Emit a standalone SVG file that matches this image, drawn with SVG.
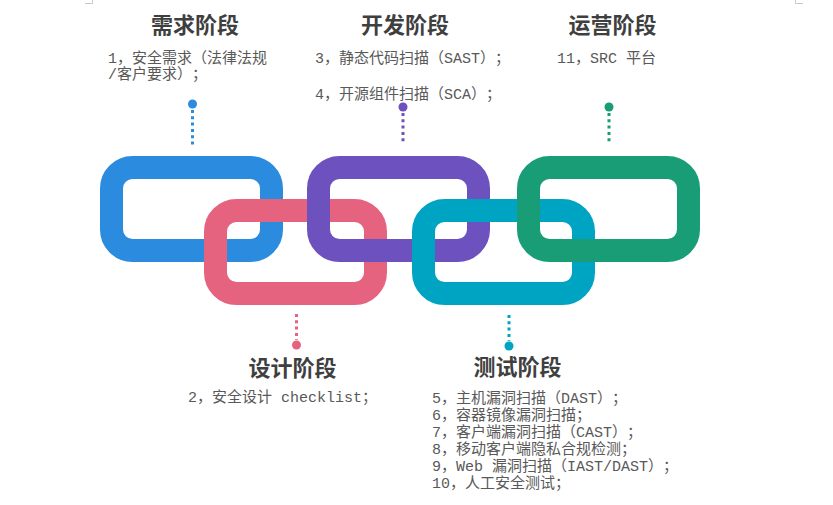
<svg xmlns="http://www.w3.org/2000/svg" width="833" height="505" viewBox="0 0 833 505">
<style>
text{text-spacing-trim:space-all}
.link{fill:none;stroke-width:23}
.title{font-family:"Noto Sans CJK SC","Noto Sans",sans-serif;font-weight:bold;font-size:22px;fill:#3f3f3f;text-anchor:middle}
.body{font-family:"Liberation Mono","Noto Sans CJK SC",monospace;font-size:15px;fill:#595959}
.dots{fill:none;stroke-width:3;stroke-dasharray:3 3.3}
.mark{fill:none;stroke:#c8c8c8;stroke-width:1}
</style>
<rect width="833" height="505" fill="#ffffff"/>
<path class="mark" d="M85 3.5H92.5V0"/>
<path class="mark" d="M795.5 0V3.5H803"/>
<g id="links">
<rect id="link-blue" class="link" x="111.5" y="167.5" width="160" height="83" rx="21" stroke="#2a8bdf"/>
<rect id="link-pink" class="link" x="215.5" y="210.5" width="160" height="83" rx="21" stroke="#e5637f"/>
<rect id="link-purple" class="link" x="318.5" y="167.5" width="160" height="83" rx="21" stroke="#6c51bf"/>
<rect id="link-teal" class="link" x="423.5" y="210.5" width="160" height="83" rx="21" stroke="#00a4c3"/>
<rect id="link-green" class="link" x="528.5" y="167.5" width="160" height="83" rx="21" stroke="#189d76"/>
</g>
<g id="connectors">
<line class="dots" x1="192.5" y1="110" x2="192.5" y2="146" stroke="#2a8bdf"/>
<circle cx="192.5" cy="104" r="4.5" fill="#2a8bdf"/>
<line class="dots" x1="403" y1="113" x2="403" y2="143" stroke="#6c51bf"/>
<circle cx="403" cy="107" r="4.5" fill="#6c51bf"/>
<line class="dots" x1="609" y1="113" x2="609" y2="143" stroke="#189d76"/>
<circle cx="609" cy="107" r="4.5" fill="#189d76"/>
<line class="dots" x1="296.5" y1="314" x2="296.5" y2="340" stroke="#e5637f"/>
<circle cx="296.5" cy="345" r="4.5" fill="#e5637f"/>
<line class="dots" x1="509" y1="315" x2="509" y2="341" stroke="#00a4c3"/>
<circle cx="509" cy="346" r="4.5" fill="#00a4c3"/>
</g>
<g id="stage-requirements">
<text class="title" x="195" y="33">需求阶段</text>
<text class="body" x="108" y="63">1，安全需求（法律法规</text>
<text class="body" x="108" y="79">/客户要求）；</text>
</g>
<g id="stage-development">
<text class="title" x="405" y="33">开发阶段</text>
<text class="body" x="315" y="63">3，静态代码扫描（SAST）；</text>
<text class="body" x="315" y="99">4，开源组件扫描（SCA）；</text>
</g>
<g id="stage-operations">
<text class="title" x="612.5" y="33">运营阶段</text>
<text class="body" x="557" y="63">11，SRC 平台</text>
</g>
<g id="stage-design">
<text class="title" x="292.5" y="376">设计阶段</text>
<text class="body" x="188" y="402">2，安全设计 checklist；</text>
</g>
<g id="stage-testing">
<text class="title" x="517.5" y="375">测试阶段</text>
<text class="body" x="432" y="403">5，主机漏洞扫描（DAST）；</text>
<text class="body" x="432" y="420">6，容器镜像漏洞扫描；</text>
<text class="body" x="432" y="437">7，客户端漏洞扫描（CAST）；</text>
<text class="body" x="432" y="454">8，移动客户端隐私合规检测；</text>
<text class="body" x="432" y="471">9，Web 漏洞扫描（IAST/DAST）；</text>
<text class="body" x="432" y="488">10，人工安全测试；</text>
</g>
</svg>
